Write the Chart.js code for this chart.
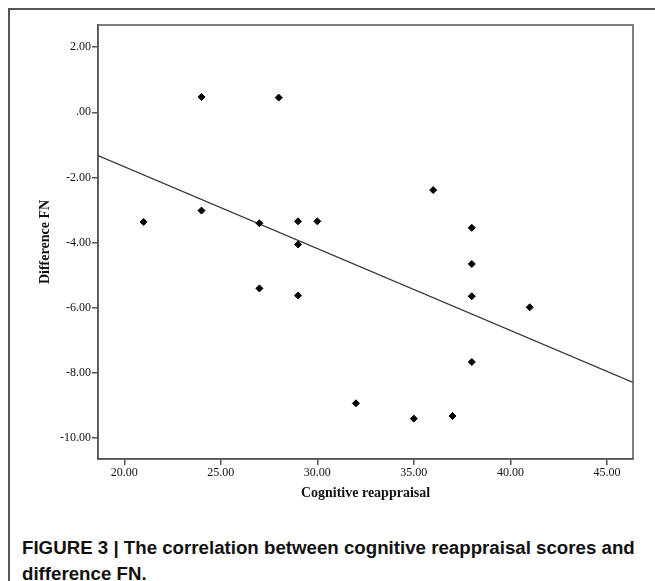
<!DOCTYPE html>
<html>
<head>
<meta charset="utf-8">
<script src="https://cdn.jsdelivr.net/npm/chart.js@4.4.0/dist/chart.umd.min.js"></script>
<style>
  body { margin: 0; background: #fff; width: 655px; height: 581px; overflow: hidden; position: relative; }
  #frame { position: absolute; left: 8px; top: 8px; width: 660px; height: 600px;
           border-left: 2px solid #555; border-top: 2px solid #555; }
  #wrap { position: absolute; left: 0; top: 0; width: 655px; height: 520px; }
  #caption { position: absolute; left: 22px; top: 535px; width: 630px;
             font-family: "Liberation Sans", Arial, sans-serif; font-weight: bold;
             font-size: 18.7px; line-height: 26px; color: #111; }
</style>
</head>
<body>
<div id="frame"></div>
<div id="wrap"><canvas id="myChart" width="655" height="520"></canvas></div>
<div id="caption">FIGURE 3 | The correlation between cognitive reappraisal scores and difference FN.</div>
<script>
// scatter values
var reappraisal = [21, 24, 24, 27, 27, 28, 29, 29, 29, 30, 32, 35, 36, 37, 38, 38, 38, 38, 41];
var differenceFN = [-3.37, 0.47, -3.02, -3.41, -5.41, 0.45, -3.35, -4.06, -5.63, -3.35,
                    -8.94, -9.41, -2.39, -9.33, -3.55, -4.66, -5.65, -7.67, -5.99];
var xTicks = [20, 25, 30, 35, 40, 45];
var yTicks = [2, 0, -2, -4, -6, -8, -10];
var xRange = [18.64, 46.35];
var yRange = [-10.65, 2.68];
// fit line
var fitIntercept = 3.36;
var fitSlope = -0.2515;

var points = reappraisal.map(function(x, i) { return { x: x, y: differenceFN[i] }; });
var fitLine = xRange.map(function(x) { return { x: x, y: fitIntercept + fitSlope * x }; });

function fmt(v) {
    var s = Number(v).toFixed(2);
    if (s === '0.00') return '.00';
    return s;
}

var boxPlugin = {
    id: 'box',
    afterDraw: function(chart) {
        var a = chart.chartArea, c = chart.ctx;
        c.save();
        c.strokeStyle = '#555';
        c.lineWidth = 1.5;
        c.strokeRect(a.left, a.top, a.right - a.left, a.bottom - a.top);
        c.restore();
    }
};

var tickFont = { family: '"Liberation Serif", "Times New Roman", serif', size: 12 };
var titleFont = { family: '"Liberation Serif", "Times New Roman", serif', size: 14, weight: 'bold' };

var ctx = document.getElementById('myChart');
var chart = new Chart(ctx, {
    type: 'scatter',
    data: {
        datasets: [{
            label: 'Difference FN',
            data: points,
            backgroundColor: '#000',
            borderColor: '#000',
            pointStyle: 'rectRot',
            pointRadius: 3.5,
            pointHoverRadius: 3.5
        }, {
            type: 'line',
            label: 'Fit',
            data: fitLine,
            borderColor: '#333',
            borderWidth: 1.2,
            pointRadius: 0,
            fill: false
        }]
    },
    options: {
        responsive: false,
        animation: false,
        layout: { padding: { left: 33, top: 25, right: 22, bottom: 0 } },
        plugins: { legend: { display: false }, tooltip: { enabled: false } },
        scales: {
            x: {
                type: 'linear',
                min: xRange[0],
                max: xRange[1],
                afterBuildTicks: function(s) { s.ticks = xTicks.map(function(v) { return { value: v }; }); },
                afterFit: function(s) { s.height = 61; },
                grid: { drawOnChartArea: false, drawTicks: true, tickLength: 6, color: '#555', lineWidth: 1.5 },
                border: { color: '#555', width: 1.5 },
                ticks: {
                    padding: 1,
                    maxRotation: 0,
                    color: '#111',
                    font: tickFont,
                    callback: function(v) { return fmt(v); }
                },
                title: {
                    display: true,
                    text: 'Cognitive reappraisal',
                    color: '#111',
                    padding: { top: 0, bottom: 18 },
                    font: titleFont
                }
            },
            y: {
                type: 'linear',
                min: yRange[0],
                max: yRange[1],
                afterBuildTicks: function(s) { s.ticks = yTicks.map(function(v) { return { value: v }; }); },
                afterFit: function(s) { s.width = 65; },
                grid: { drawOnChartArea: false, drawTicks: true, tickLength: 6, color: '#555', lineWidth: 1.5 },
                border: { color: '#555', width: 1.5 },
                ticks: {
                    padding: 1,
                    color: '#111',
                    font: tickFont,
                    callback: function(v) { return fmt(v); }
                },
                title: {
                    display: true,
                    text: 'Difference FN',
                    color: '#111',
                    padding: { top: 4, bottom: 0 },
                    font: titleFont
                }
            }
        }
    },
    plugins: [boxPlugin]
});
</script>
</body>
</html>
